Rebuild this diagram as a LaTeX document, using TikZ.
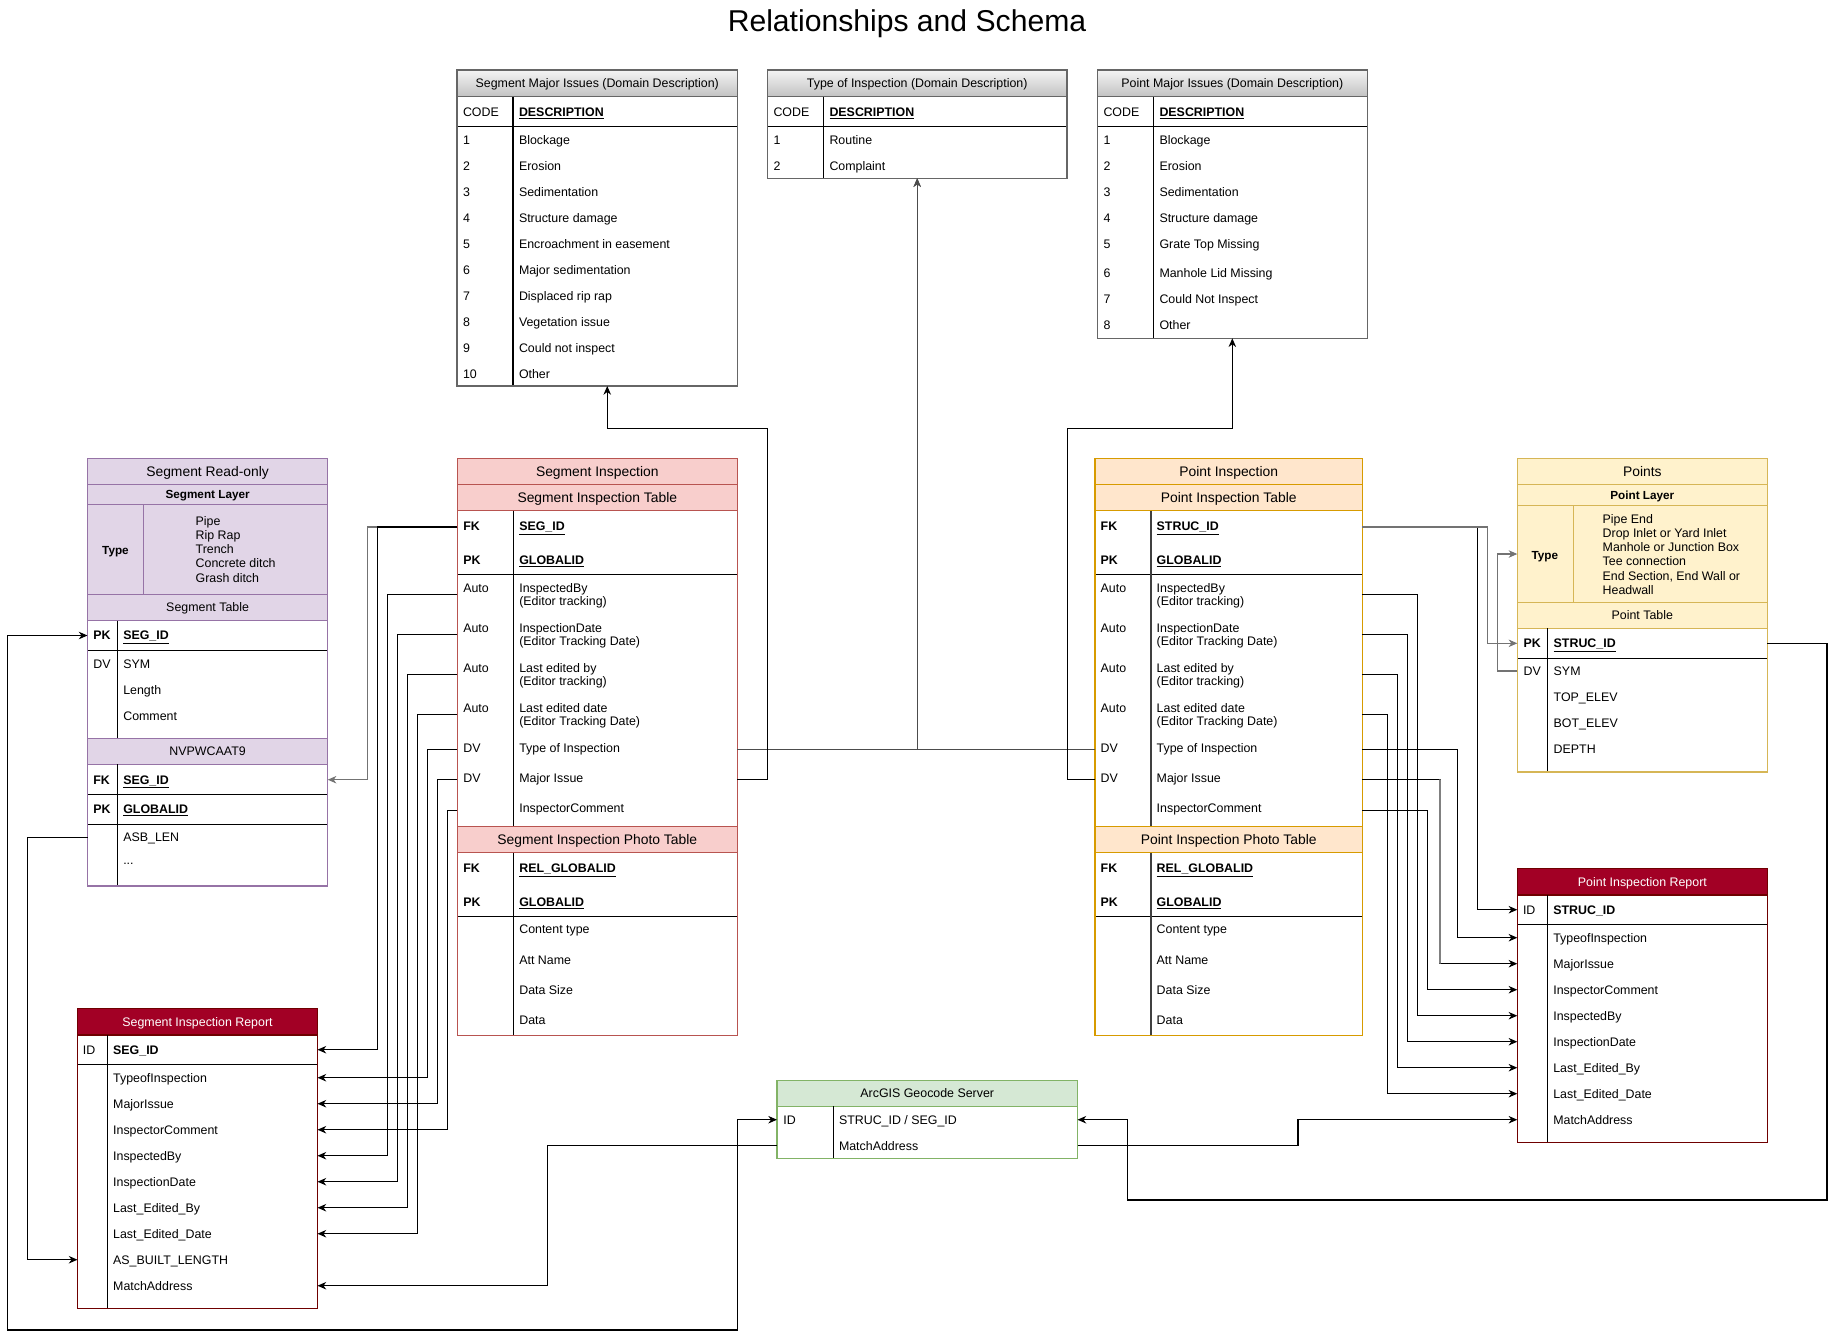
\documentclass[tikz,border=0pt]{standalone}
\usepackage{fontspec}
\setmainfont{Liberation Sans}
\usetikzlibrary{arrows.meta,calc}

\definecolor{grayline}{HTML}{666666}
\definecolor{hdrtop}{HTML}{F4F4F4}
\definecolor{hdrbot}{HTML}{C2C2C2}
\definecolor{purfill}{HTML}{E1D5E7}
\definecolor{purline}{HTML}{9673A6}
\definecolor{redfill}{HTML}{F8CECC}
\definecolor{redline}{HTML}{B85450}
\definecolor{orafill}{HTML}{FFE6CC}
\definecolor{oraline}{HTML}{D79B00}
\definecolor{yelfill}{HTML}{FFF2CC}
\definecolor{yelline}{HTML}{D6B656}
\definecolor{grnfill}{HTML}{D5E8D4}
\definecolor{grnline}{HTML}{82B366}
\definecolor{repfill}{HTML}{A20025}
\definecolor{repline}{HTML}{6F0000}

% box given by its two corners (in pixel units)
\newcommand\cellbox[6]{\node[#6,inner sep=0pt,outer sep=0pt,
  minimum width={((#4)-(#2))*0.75pt},minimum height={((#5)-(#3))*0.75pt}]
  (#1) at ({((#2)+(#4))/2},{((#3)+(#5))/2}) {};}
% invisible row used as a connector anchor
\newcommand\rowat[4]{\cellbox{#1}{#2}{(#4)-13}{#3}{(#4)+13}{}}
% text node
\newcommand\tx[5]{\node[#4] (#1) at (#2,#3) {#5};}
\newcommand\ul[1]{\underline{#1}}

\begin{document}
\begin{tikzpicture}[x=0.75pt,y=-0.75pt,
  >={Stealth[length=6.5pt,width=5.6pt,inset=2pt]},
  txt/.style={anchor=west,inner sep=0pt,outer sep=0pt,text height=6.6pt,text depth=0pt,
    font=\fontsize{9.3}{11}\selectfont,text=black},
  bt/.style={txt,font=\fontsize{9.3}{11}\selectfont\bfseries},
  ct/.style={txt,anchor=center},
  cbt/.style={bt,anchor=center,font=\fontsize{8.8}{11}\selectfont\bfseries},
  big/.style={ct,font=\fontsize{10.4}{12}\selectfont,text height=7.4pt},
  wht/.style={ct,text=white},
  inl/.style={draw=black,line width=0.8pt},
  frame/.style={line width=0.8pt},
  conn/.style={draw=black,line width=0.8pt},
  arr/.style={conn,->},
  garr/.style={arr,draw=black!55},
]
\useasboundingbox (0,0) rectangle (1840,1343);

% ---------------- title ----------------
\node[anchor=base,inner sep=0pt,font=\fontsize{22.6}{26}\selectfont] (title) at (907,31) {Relationships and Schema};

% ---------------- Segment Major Issues ----------------
\cellbox{smi}{457}{70}{737.5}{386}{fill=white}
\cellbox{smi-h}{457}{70}{737.5}{96.7}{draw=grayline,frame,top color=hdrtop,bottom color=hdrbot}
\draw[inl] (457,126.7) -- (737.5,126.7);
\draw[inl] (513,96.7) -- (513,386);
\draw[frame,draw=grayline] (smi.north west) rectangle (smi.south east);
\tx{smi-t}{597.25}{83.5}{ct}{Segment Major Issues (Domain Description)}
\tx{smi-ck}{463}{111.7}{txt}{CODE}
\tx{smi-cd}{519}{111.7}{bt}{\ul{DESCRIPTION}}
\foreach \n/\y/\d in {1/140/Blockage,2/166/Erosion,3/192/Sedimentation,4/218/Structure damage,
  5/244/Encroachment in easement,6/270/Major sedimentation,7/296/Displaced rip rap,
  8/322/Vegetation issue,9/348/Could not inspect,10/374/Other}{
  \tx{smi-k\n}{463}{\y}{txt}{\n}
  \tx{smi-v\n}{519}{\y}{txt}{\d}
}

% ---------------- Type of Inspection ----------------
\cellbox{toi}{767.4}{70}{1067}{178.3}{fill=white}
\cellbox{toi-h}{767.4}{70}{1067}{96.7}{draw=grayline,frame,top color=hdrtop,bottom color=hdrbot}
\draw[inl] (767.4,126.7) -- (1067,126.7);
\draw[inl] (823.4,96.7) -- (823.4,178.3);
\draw[frame,draw=grayline] (toi.north west) rectangle (toi.south east);
\tx{toi-t}{917.2}{83.5}{ct}{Type of Inspection (Domain Description)}
\tx{toi-ck}{773.5}{111.7}{txt}{CODE}
\tx{toi-cd}{829.5}{111.7}{bt}{\ul{DESCRIPTION}}
\foreach \n/\y/\d in {1/140/Routine,2/166/Complaint}{
  \tx{toi-k\n}{773.5}{\y}{txt}{\n}
  \tx{toi-v\n}{829.5}{\y}{txt}{\d}
}

% ---------------- Point Major Issues ----------------
\cellbox{pmi}{1097.3}{70}{1367.3}{338.3}{fill=white}
\cellbox{pmi-h}{1097.3}{70}{1367.3}{96.7}{draw=grayline,frame,top color=hdrtop,bottom color=hdrbot}
\draw[inl] (1097.3,126.7) -- (1367.3,126.7);
\draw[inl] (1153.3,96.7) -- (1153.3,338.3);
\draw[frame,draw=grayline] (pmi.north west) rectangle (pmi.south east);
\tx{pmi-t}{1232.3}{83.5}{ct}{Point Major Issues (Domain Description)}
\tx{pmi-ck}{1103.5}{111.7}{txt}{CODE}
\tx{pmi-cd}{1159.5}{111.7}{bt}{\ul{DESCRIPTION}}
\foreach \n/\y/\d in {1/140/Blockage,2/166/Erosion,3/192/Sedimentation,4/218/Structure damage,
  5/244/Grate Top Missing,6/273.3/Manhole Lid Missing,7/299.3/Could Not Inspect,8/325.3/Other}{
  \tx{pmi-k\n}{1103.5}{\y}{txt}{\n}
  \tx{pmi-v\n}{1159.5}{\y}{txt}{\d}
}

% ---------------- Segment Read-only ----------------
\cellbox{sro}{87.5}{458.3}{327.7}{886}{fill=white}
\cellbox{sro-title}{87.5}{458.3}{327.7}{484.3}{fill=purfill,draw=purline,frame}
\cellbox{sro-layer}{87.5}{484.3}{327.7}{504.3}{fill=purfill,draw=purline,frame}
\cellbox{sro-type}{87.5}{504.3}{327.7}{594.3}{fill=purfill,draw=purline,frame}
\cellbox{sro-tab}{87.5}{594.3}{327.7}{620.5}{fill=purfill,draw=purline,frame}
\cellbox{sro-nv}{87.5}{738.3}{327.7}{764.3}{fill=purfill,draw=purline,frame}
\draw[frame,draw=purline] (143.3,504.3) -- (143.3,594.3);
\draw[inl] (87.5,650.3) -- (327.7,650.3);
\draw[inl] (87.5,794.3) -- (327.7,794.3);
\draw[inl] (87.5,824.3) -- (327.7,824.3);
\draw[inl] (117.7,620.5) -- (117.7,738.3);
\draw[inl] (117.7,764.3) -- (117.7,886);
\draw[frame,draw=purline] (sro.north west) rectangle (sro.south east);
\tx{sro-t}{207.6}{471.3}{big}{Segment Read-only}
\tx{sro-l}{207.6}{494.3}{cbt}{Segment Layer}
\tx{sro-ty}{115.5}{550}{cbt}{Type}
\foreach \n/\y/\d in {1/520.7/Pipe,2/535/Rip Rap,3/549.2/Trench,4/563.5/Concrete ditch,5/577.7/Grash ditch}{
  \tx{sro-t\n}{195.7}{\y}{txt}{\d}
}
\tx{sro-tb}{207.6}{607.4}{ct}{Segment Table}
\rowat{sro-pk}{87.5}{327.7}{635.5}
\tx{sro-pkk}{93.3}{635.5}{bt}{PK}
\tx{sro-pkv}{123.3}{635.5}{bt}{\ul{SEG\_ID}}
\tx{sro-dv}{93.3}{663.7}{txt}{DV}
\tx{sro-sym}{123.3}{663.7}{txt}{SYM}
\tx{sro-len}{123.3}{689.7}{txt}{Length}
\tx{sro-com}{123.3}{715.7}{txt}{Comment}
\tx{sro-nvt}{207.6}{751.3}{ct}{NVPWCAAT9}
\rowat{sro-fk}{87.5}{327.7}{779.7}
\tx{sro-fkk}{93.3}{779.7}{bt}{FK}
\tx{sro-fkv}{123.3}{779.7}{bt}{\ul{SEG\_ID}}
\tx{sro-gk}{93.3}{809.3}{bt}{PK}
\tx{sro-gv}{123.3}{809.3}{bt}{\ul{GLOBALID}}
\rowat{sro-asb}{87.5}{327.7}{837.3}
\tx{sro-asbv}{123.3}{837.3}{txt}{ASB\_LEN}
\tx{sro-more}{123.3}{860.5}{txt}{...}

% ---------------- Segment Inspection ----------------
\cellbox{si}{457.3}{458.3}{737.3}{1035.9}{fill=white}
\cellbox{si-title}{457.3}{458.3}{737.3}{484.4}{fill=redfill,draw=redline,frame}
\cellbox{si-tab}{457.3}{484.4}{737.3}{510.5}{fill=redfill,draw=redline,frame}
\cellbox{si-ph}{457.3}{826.2}{737.3}{852.6}{fill=redfill,draw=redline,frame}
\draw[inl] (457.3,574.4) -- (737.3,574.4);
\draw[inl] (457.3,916.5) -- (737.3,916.5);
\draw[inl] (513.3,510.5) -- (513.3,826.2);
\draw[inl] (513.3,852.6) -- (513.3,1035.9);
\draw[frame,draw=redline] (si.north west) rectangle (si.south east);
\tx{si-tt}{597.3}{471.3}{big}{Segment Inspection}
\tx{si-tbt}{597.3}{497.4}{big}{Segment Inspection Table}
\rowat{si-fk}{457.3}{737.3}{527}
\rowat{si-a1}{457.3}{737.3}{594.4}
\rowat{si-a2}{457.3}{737.3}{634.4}
\rowat{si-a3}{457.3}{737.3}{674.4}
\rowat{si-a4}{457.3}{737.3}{714.4}
\rowat{si-dv1}{457.3}{737.3}{749.3}
\rowat{si-dv2}{457.3}{737.3}{779.3}
\rowat{si-cm}{457.3}{737.3}{810.3}
\tx{si-fkk}{463.3}{526.5}{bt}{FK}
\tx{si-fkv}{519.3}{526.5}{bt}{\ul{SEG\_ID}}
\tx{si-pkk}{463.3}{559.8}{bt}{PK}
\tx{si-pkv}{519.3}{559.8}{bt}{\ul{GLOBALID}}
\tx{si-a1k}{463.3}{587.8}{txt}{Auto}
\tx{si-a1v}{519.3}{587.8}{txt}{InspectedBy}
\tx{si-a1w}{519.3}{601.5}{txt}{(Editor tracking)}
\tx{si-a2k}{463.3}{627.8}{txt}{Auto}
\tx{si-a2v}{519.3}{627.8}{txt}{InspectionDate}
\tx{si-a2w}{519.3}{641.5}{txt}{(Editor Tracking Date)}
\tx{si-a3k}{463.3}{667.8}{txt}{Auto}
\tx{si-a3v}{519.3}{667.8}{txt}{Last edited by}
\tx{si-a3w}{519.3}{681.5}{txt}{(Editor tracking)}
\tx{si-a4k}{463.3}{707.6}{txt}{Auto}
\tx{si-a4v}{519.3}{707.6}{txt}{Last edited date}
\tx{si-a4w}{519.3}{721.3}{txt}{(Editor Tracking Date)}
\tx{si-d1k}{463.3}{747.7}{txt}{DV}
\tx{si-d1v}{519.3}{747.7}{txt}{Type of Inspection}
\tx{si-d2k}{463.3}{778}{txt}{DV}
\tx{si-d2v}{519.3}{778}{txt}{Major Issue}
\tx{si-cmv}{519.3}{807.8}{txt}{InspectorComment}
\tx{si-pht}{597.3}{839.4}{big}{Segment Inspection Photo Table}
\tx{si-pfk}{463.3}{868.3}{bt}{FK}
\tx{si-pfv}{519.3}{868.3}{bt}{\ul{REL\_GLOBALID}}
\tx{si-ppk}{463.3}{902}{bt}{PK}
\tx{si-ppv}{519.3}{902}{bt}{\ul{GLOBALID}}
\tx{si-p1}{519.3}{929.5}{txt}{Content type}
\tx{si-p2}{519.3}{959.8}{txt}{Att Name}
\tx{si-p3}{519.3}{989.6}{txt}{Data Size}
\tx{si-p4}{519.3}{1019.8}{txt}{Data}

% ---------------- Point Inspection ----------------
\cellbox{pi}{1095}{458.3}{1362.3}{1035.9}{fill=white}
\cellbox{pi-title}{1095}{458.3}{1362.3}{484.4}{fill=orafill,draw=oraline,frame}
\cellbox{pi-tab}{1095}{484.4}{1362.3}{510.5}{fill=orafill,draw=oraline,frame}
\cellbox{pi-ph}{1095}{826.2}{1362.3}{852.6}{fill=orafill,draw=oraline,frame}
\draw[inl] (1095,574.4) -- (1362.3,574.4);
\draw[inl] (1095,916.5) -- (1362.3,916.5);
\draw[inl,draw=black!75] (1151,510.5) -- (1151,826.2);
\draw[inl,draw=black!75] (1151,852.6) -- (1151,1035.9);
\draw[frame,draw=oraline] (pi.north west) rectangle (pi.south east);
\tx{pi-tt}{1228.7}{471.3}{big}{Point Inspection}
\tx{pi-tbt}{1228.7}{497.4}{big}{Point Inspection Table}
\rowat{pi-fk}{1095}{1362.3}{527}
\rowat{pi-a1}{1095}{1362.3}{594.4}
\rowat{pi-a2}{1095}{1362.3}{634.4}
\rowat{pi-a3}{1095}{1362.3}{674.4}
\rowat{pi-a4}{1095}{1362.3}{714.4}
\rowat{pi-dv1}{1095}{1362.3}{749.3}
\rowat{pi-dv2}{1095}{1362.3}{779.3}
\rowat{pi-cm}{1095}{1362.3}{810.3}
\tx{pi-fkk}{1100.7}{526.5}{bt}{FK}
\tx{pi-fkv}{1156.7}{526.5}{bt}{\ul{STRUC\_ID}}
\tx{pi-pkk}{1100.7}{559.8}{bt}{PK}
\tx{pi-pkv}{1156.7}{559.8}{bt}{\ul{GLOBALID}}
\tx{pi-a1k}{1100.7}{587.8}{txt}{Auto}
\tx{pi-a1v}{1156.7}{587.8}{txt}{InspectedBy}
\tx{pi-a1w}{1156.7}{601.5}{txt}{(Editor tracking)}
\tx{pi-a2k}{1100.7}{627.8}{txt}{Auto}
\tx{pi-a2v}{1156.7}{627.8}{txt}{InspectionDate}
\tx{pi-a2w}{1156.7}{641.5}{txt}{(Editor Tracking Date)}
\tx{pi-a3k}{1100.7}{667.8}{txt}{Auto}
\tx{pi-a3v}{1156.7}{667.8}{txt}{Last edited by}
\tx{pi-a3w}{1156.7}{681.5}{txt}{(Editor tracking)}
\tx{pi-a4k}{1100.7}{707.6}{txt}{Auto}
\tx{pi-a4v}{1156.7}{707.6}{txt}{Last edited date}
\tx{pi-a4w}{1156.7}{721.3}{txt}{(Editor Tracking Date)}
\tx{pi-d1k}{1100.7}{747.7}{txt}{DV}
\tx{pi-d1v}{1156.7}{747.7}{txt}{Type of Inspection}
\tx{pi-d2k}{1100.7}{778}{txt}{DV}
\tx{pi-d2v}{1156.7}{778}{txt}{Major Issue}
\tx{pi-cmv}{1156.7}{807.8}{txt}{InspectorComment}
\tx{pi-pht}{1228.7}{839.4}{big}{Point Inspection Photo Table}
\tx{pi-pfk}{1100.7}{868.3}{bt}{FK}
\tx{pi-pfv}{1156.7}{868.3}{bt}{\ul{REL\_GLOBALID}}
\tx{pi-ppk}{1100.7}{902}{bt}{PK}
\tx{pi-ppv}{1156.7}{902}{bt}{\ul{GLOBALID}}
\tx{pi-p1}{1156.7}{929.5}{txt}{Content type}
\tx{pi-p2}{1156.7}{959.8}{txt}{Att Name}
\tx{pi-p3}{1156.7}{989.6}{txt}{Data Size}
\tx{pi-p4}{1156.7}{1019.8}{txt}{Data}

% ---------------- Points ----------------
\cellbox{pts}{1517.3}{458.3}{1767.3}{772}{fill=white}
\cellbox{pts-title}{1517.3}{458.3}{1767.3}{484.3}{fill=yelfill,draw=yelline,frame}
\cellbox{pts-layer}{1517.3}{484.3}{1767.3}{505.7}{fill=yelfill,draw=yelline,frame}
\cellbox{pts-type}{1517.3}{505.7}{1767.3}{602.3}{fill=yelfill,draw=yelline,frame}
\cellbox{pts-tab}{1517.3}{602.3}{1767.3}{628.3}{fill=yelfill,draw=yelline,frame}
\draw[frame,draw=yelline] (1573.7,505.7) -- (1573.7,602.3);
\draw[inl] (1517.3,658.3) -- (1767.3,658.3);
\draw[inl] (1547.3,628.3) -- (1547.3,772);
\draw[frame,draw=yelline] (pts.north west) rectangle (pts.south east);
\tx{pts-t}{1642.3}{471.3}{big}{Points}
\tx{pts-l}{1642.3}{495}{cbt}{Point Layer}
\tx{pts-ty}{1544.8}{555}{cbt}{Type}
\foreach \n/\y/\d in {1/518.7/Pipe End,2/532.95/Drop Inlet or Yard Inlet,3/547.2/Manhole or Junction Box,
  4/561.45/Tee connection,5/575.7/{End Section, End Wall or},6/589.95/Headwall}{
  \tx{pts-t\n}{1602.7}{\y}{txt}{\d}
}
\tx{pts-tb}{1642.3}{615.3}{ct}{Point Table}
\rowat{pts-pk}{1517.3}{1767.3}{643.3}
\tx{pts-pkk}{1523.7}{643.3}{bt}{PK}
\tx{pts-pkv}{1553.7}{643.3}{bt}{\ul{STRUC\_ID}}
\rowat{pts-sym}{1517.3}{1767.3}{671}
\tx{pts-dv}{1523.7}{671}{txt}{DV}
\tx{pts-f1}{1553.7}{671}{txt}{SYM}
\tx{pts-f2}{1553.7}{697}{txt}{TOP\_ELEV}
\tx{pts-f3}{1553.7}{723}{txt}{BOT\_ELEV}
\tx{pts-f4}{1553.7}{749}{txt}{DEPTH}

% ---------------- Point Inspection Report ----------------
\cellbox{pir}{1517.3}{868.3}{1767.5}{1142.3}{fill=white}
\cellbox{pir-h}{1517.3}{868.3}{1767.5}{895}{fill=repfill,draw=repline,frame}
\draw[inl] (1517.3,924.3) -- (1767.5,924.3);
\draw[inl] (1547.3,895) -- (1547.3,1142.3);
\draw[frame,draw=repline] (pir.north west) rectangle (pir.south east);
\tx{pir-t}{1642.4}{881.7}{wht}{Point Inspection Report}
\rowat{pir-id}{1517.3}{1767.5}{909.7}
\tx{pir-idk}{1523}{909.7}{txt}{ID}
\tx{pir-idv}{1553.3}{909.7}{bt}{STRUC\_ID}
\foreach \nm/\y/\d in {toi/937.7/TypeofInspection,mi/963.7/MajorIssue,ic/989.7/InspectorComment,
  ib/1015.7/InspectedBy,idt/1041.7/InspectionDate,leb/1067.7/Last\_Edited\_By,
  led/1093.7/Last\_Edited\_Date,ma/1119.7/MatchAddress}{
  \rowat{pir-\nm}{1517.3}{1767.5}{\y}
  \tx{pir-\nm-v}{1553.3}{\y}{txt}{\d}
}

% ---------------- Segment Inspection Report ----------------
\cellbox{sir}{77.5}{1008.3}{317.5}{1308.3}{fill=white}
\cellbox{sir-h}{77.5}{1008.3}{317.5}{1035}{fill=repfill,draw=repline,frame}
\draw[inl] (77.5,1064.3) -- (317.5,1064.3);
\draw[inl] (107.5,1035) -- (107.5,1308.3);
\draw[frame,draw=repline] (sir.north west) rectangle (sir.south east);
\tx{sir-t}{197.5}{1021.7}{wht}{Segment Inspection Report}
\rowat{sir-id}{77.5}{317.5}{1049.7}
\tx{sir-idk}{82.9}{1049.7}{txt}{ID}
\tx{sir-idv}{113.2}{1049.7}{bt}{SEG\_ID}
\foreach \nm/\y/\d in {toi/1077.7/TypeofInspection,mi/1103.7/MajorIssue,ic/1129.7/InspectorComment,
  ib/1155.7/InspectedBy,idt/1181.7/InspectionDate,leb/1207.7/Last\_Edited\_By,
  led/1233.7/Last\_Edited\_Date,asb/1259.7/AS\_BUILT\_LENGTH,ma/1285.7/MatchAddress}{
  \rowat{sir-\nm}{77.5}{317.5}{\y}
  \tx{sir-\nm-v}{113.2}{\y}{txt}{\d}
}

% ---------------- ArcGIS Geocode Server ----------------
\cellbox{geo}{777}{1080.3}{1077.5}{1158.3}{fill=white}
\cellbox{geo-h}{777}{1080.3}{1077.5}{1106.3}{fill=grnfill,draw=grnline,frame}
\draw[inl] (833.3,1106.3) -- (833.3,1158.3);
\draw[frame,draw=grnline] (geo.north west) rectangle (geo.south east);
\tx{geo-t}{927.25}{1093.3}{ct}{ArcGIS Geocode Server}
\rowat{geo-id}{777}{1077.5}{1119.7}
\tx{geo-idk}{783.3}{1119.7}{txt}{ID}
\tx{geo-idv}{839}{1119.7}{txt}{STRUC\_ID / SEG\_ID}
\rowat{geo-ma}{777}{1077.5}{1145.7}
\tx{geo-mav}{839}{1145.7}{txt}{MatchAddress}

% ---------------- connectors: segment side ----------------
\draw[garr] (si-fk.west) -- ++(-90,0) |- (sro-fk.east);
\draw[arr] (si-fk.west) -- ++(-79.8,0) |- (sir-id.east);
\draw[arr] (si-a1.west) -- ++(-69.8,0) |- (sir-ib.east);
\draw[arr] (si-a2.west) -- ++(-59.8,0) |- (sir-idt.east);
\draw[arr] (si-a3.west) -- ++(-49.8,0) |- (sir-leb.east);
\draw[arr] (si-a4.west) -- ++(-39.8,0) |- (sir-led.east);
\draw[arr] (si-dv1.west) -- ++(-29.8,0) |- (sir-toi.east);
\draw[arr] (si-dv2.west) -- ++(-19.8,0) |- (sir-mi.east);
\draw[arr] (si-cm.west) -- ++(-9.8,0) |- (sir-ic.east);
\draw[arr] (sro-asb.west) -- ++(-60,0) |- (sir-asb.west);
\draw[conn,<->] (geo-id.west) -| (737.3,1330) -- (7.9,1330) |- (sro-pk.west);
\draw[arr] (geo-ma.west) -- ++(-229.5,0) |- (sir-ma.east);

% domain lookups
\draw[arr,draw=black!70,line width=0.6pt] (si-dv1.east) -| (toi.south);
\draw[arr,draw=black!70,line width=0.6pt] (pi-dv1.west) -| (toi.south);
\draw[arr] (si-dv2.east) -- ++(30.2,0) -- ++(0,-351) -| ([xshift=7.5pt]smi.south);
\draw[arr] (pi-dv2.west) -- ++(-27.5,0) -- ++(0,-351) -| (pmi.south);

% ---------------- connectors: point side ----------------
\draw[arr] (pi-fk.east) -- ++(115.4,0) |- (pir-id.west);
\draw[garr] (pi-fk.east) -- ++(125,0) |- (pts-pk.west);
\draw[garr] (pts-sym.west) -- ++(-20,0) |- (pts-type.west);
\draw[arr] (pi-a1.east) -- ++(55,0) |- (pir-ib.west);
\draw[arr] (pi-a2.east) -- ++(45.2,0) |- (pir-idt.west);
\draw[arr] (pi-a3.east) -- ++(35,0) |- (pir-leb.west);
\draw[arr] (pi-a4.east) -- ++(25,0) |- (pir-led.west);
\draw[arr] (pi-dv1.east) -- ++(95,0) |- (pir-toi.west);
\draw[arr] (pi-dv2.east) -- ++(77.7,0) |- (pir-mi.west);
\draw[draw=black!50,line width=1.2pt] ($(pi-dv2.east)+(77.7,0)$) -- ($(pir-mi.west)+(-77.3,0)$);
\draw[arr] (pi-cm.east) -- ++(65.2,0) |- (pir-ic.west);
\draw[arr] (geo-ma.east) -- ++(220.5,0) |- (pir-ma.west);
\draw[arr] (pts-pk.east) -| (1827,1200) -| ($(geo-id.east)+(50,0)$) -- (geo-id.east);
\end{tikzpicture}
\end{document}
